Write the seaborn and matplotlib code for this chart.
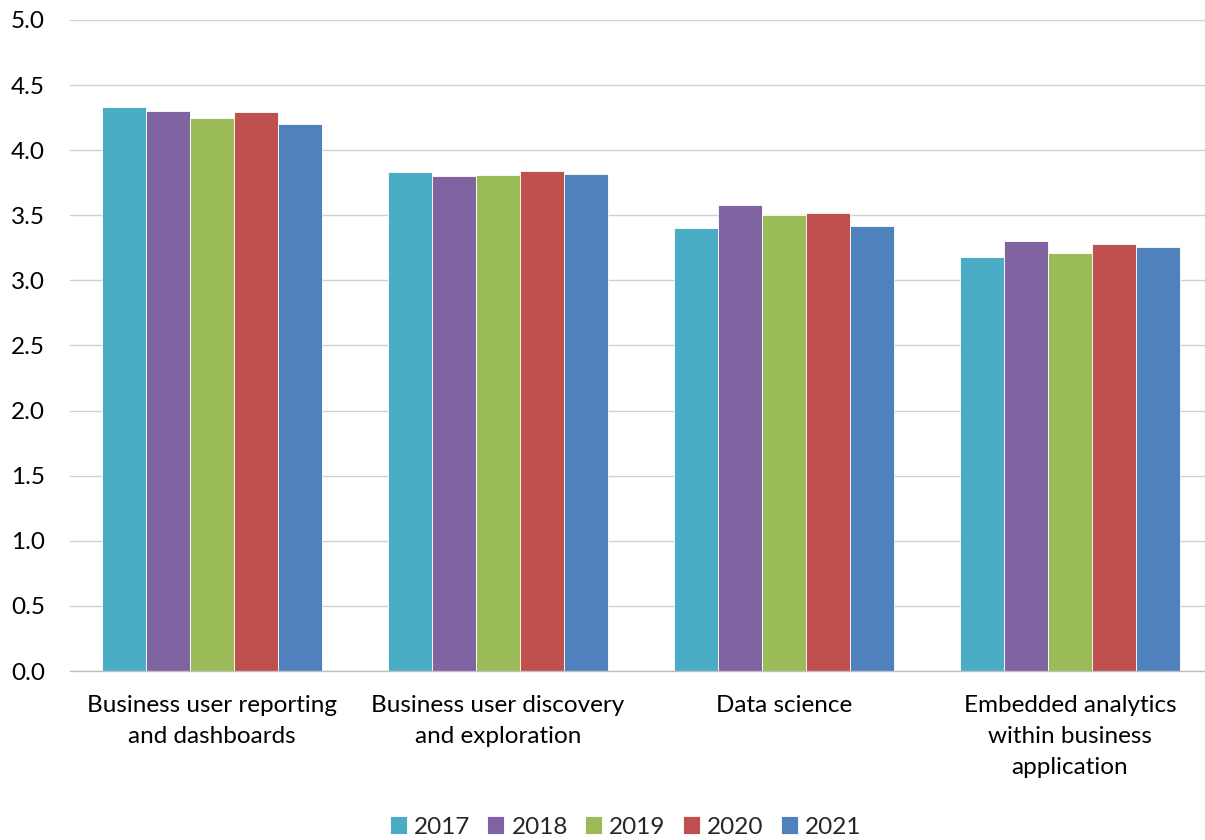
import matplotlib
matplotlib.use("Agg")
import matplotlib.pyplot as plt
import seaborn as sns
import pandas as pd

categories = [
    "Business user reporting\nand dashboards",
    "Business user discovery\nand exploration",
    "Data science",
    "Embedded analytics\nwithin business\napplication",
]
years = ["2017", "2018", "2019", "2020", "2021"]
scores_2017 = [4.33, 3.83, 3.40, 3.18]
scores_2018 = [4.30, 3.80, 3.58, 3.30]
scores_2019 = [4.25, 3.81, 3.50, 3.21]
scores_2020 = [4.29, 3.84, 3.52, 3.28]
scores_2021 = [4.20, 3.82, 3.42, 3.26]
y_ticks = [0.0, 0.5, 1.0, 1.5, 2.0, 2.5, 3.0, 3.5, 4.0, 4.5, 5.0]

colors = ["#4BACC6", "#8064A2", "#9BBB59", "#C0504D", "#4F81BD"]

series = [scores_2017, scores_2018, scores_2019, scores_2020, scores_2021]
df = pd.DataFrame(
    [(c, y, v) for y, vals in zip(years, series) for c, v in zip(categories, vals)],
    columns=["category", "year", "score"],
)

sns.set_theme(style="white")
plt.rcParams["font.family"] = ["Lato", "DejaVu Sans"]

fig = plt.figure(figsize=(12.05, 8.4), dpi=100)
ax = fig.add_axes([70 / 1205, (840 - 671) / 840, 1135 / 1205, 651 / 840])

sns.barplot(
    data=df, x="category", y="score", hue="year", order=categories,
    hue_order=years, palette=colors, width=0.77, saturation=1,
    edgecolor="white", linewidth=0.6, ax=ax,
)

ax.set_ylim(0, 5.0)
ax.set_xlim(-0.497, 3.472)
ax.set_yticks(y_ticks)
ax.set_yticklabels([f"{t:.1f}" for t in y_ticks], fontsize=17.5, color="#000000")
ax.tick_params(axis="x", labelsize=17.5, colors="#000000", length=0, pad=17)
ax.tick_params(axis="y", length=0, pad=18)
ax.set_xlabel("")
ax.set_ylabel("")
ax.grid(axis="y", color="#D0D0D0", linewidth=1.0)
ax.set_axisbelow(True)
for side in ["top", "right", "left"]:
    ax.spines[side].set_visible(False)
ax.spines["bottom"].set_color("#BFBFBF")
ax.spines["bottom"].set_linewidth(1.0)

for t in ax.get_xticklabels():
    t.set_linespacing(1.6)

handles, labels = ax.get_legend_handles_labels()
ax.legend(
    handles, labels, loc="center", bbox_to_anchor=(0.5 - 12 / 1135, 1 - (827 - 20) / 651),
    bbox_transform=ax.transAxes, ncol=5, frameon=False, fontsize=17.5,
    handlelength=0.7, handleheight=0.7, handletextpad=0.3, columnspacing=0.7,
    borderaxespad=0,
)

fig.savefig("out.png", dpi=100, facecolor="white")
